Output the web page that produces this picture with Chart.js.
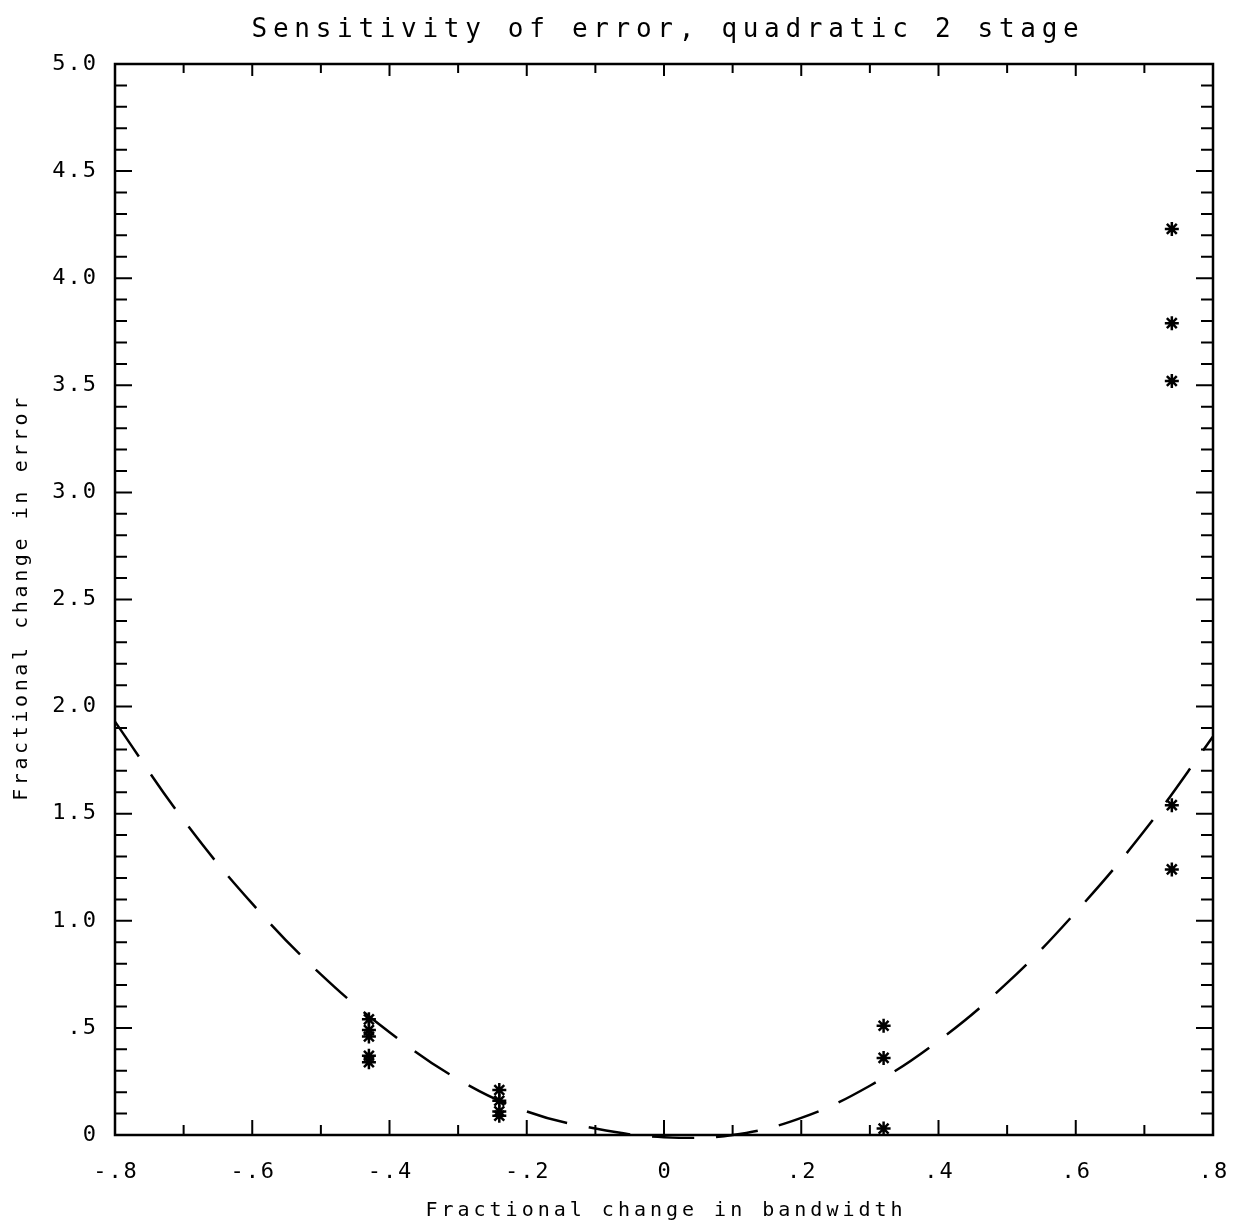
<!DOCTYPE html>
<html>
<head>
<meta charset="utf-8">
<script src="https://cdn.jsdelivr.net/npm/chart.js@4/dist/chart.umd.min.js"></script>
<style>
  html, body { margin: 0; padding: 0; background: #fff; }
  #wrap { width: 1234px; height: 1228px; }
</style>
</head>
<body>
<div id="wrap"><canvas id="chart" width="1234" height="1228"></canvas></div>
<script>
// measured points (asterisks)
const starX = [-0.43, -0.43, -0.43, -0.43, -0.43, -0.24, -0.24, -0.24, -0.24, 0.32, 0.32, 0.32, 0.74, 0.74, 0.74, 0.74, 0.74];
const starY = [0.54, 0.49, 0.46, 0.37, 0.34, 0.21, 0.16, 0.11, 0.09, 0.51, 0.36, 0.03, 4.23, 3.79, 3.52, 1.54, 1.24];

// fitted quadratic
const curveX = [-0.8, -0.7, -0.6, -0.5, -0.4, -0.3, -0.2, -0.1, 0, 0.1, 0.2, 0.3, 0.4, 0.5, 0.6, 0.7, 0.8];
const curveY = [1.93, 1.47, 1.08, 0.75, 0.48, 0.26, 0.11, 0.03, -0.01, 0.0, 0.08, 0.23, 0.44, 0.71, 1.04, 1.42, 1.86];

const xLabels = { "-0.8": "-.8", "-0.6": "-.6", "-0.4": "-.4", "-0.2": "-.2", "0": "0", "0.2": ".2", "0.4": ".4", "0.6": ".6", "0.8": ".8" };
const yLabels = { "0": "0", "0.5": ".5", "1": "1.0", "1.5": "1.5", "2": "2.0", "2.5": "2.5", "3": "3.0", "3.5": "3.5", "4": "4.0", "4.5": "4.5", "5": "5.0" };

const titleText = "Sensitivity of error, quadratic 2 stage";
const xTitle = "Fractional change in bandwidth";
const yTitle = "Fractional change in error";

const FONT = "'DejaVu Sans Mono', monospace";

function key(v) { return String(Math.round(v * 10) / 10); }

const plotterFrame = {
  id: "plotterFrame",
  afterDraw(chart) {
    const ctx = chart.ctx;
    const a = chart.chartArea;
    const xs = chart.scales.x, ys = chart.scales.y;
    ctx.save();
    ctx.strokeStyle = "#000";
    ctx.fillStyle = "#000";
    ctx.lineWidth = 2.5;
    ctx.strokeRect(a.left, a.top, a.right - a.left, a.bottom - a.top);

    // inward ticks
    ctx.lineWidth = 2;
    xs.ticks.forEach(t => {
      const px = xs.getPixelForValue(t.value);
      const major = Math.round(t.value * 10) % 2 === 0;
      const len = major ? 15 : 10;
      ctx.beginPath();
      ctx.moveTo(px, a.bottom); ctx.lineTo(px, a.bottom - len);
      ctx.moveTo(px, a.top); ctx.lineTo(px, a.top + (major ? 12 : 9));
      ctx.stroke();
    });
    ys.ticks.forEach(t => {
      const py = ys.getPixelForValue(t.value);
      const major = Math.round(t.value * 10) % 5 === 0;
      const len = major ? 17 : 12;
      ctx.beginPath();
      ctx.moveTo(a.left, py); ctx.lineTo(a.left + len, py);
      ctx.moveTo(a.right, py); ctx.lineTo(a.right - len, py);
      ctx.stroke();
    });

    // tick labels
    ctx.font = "22px " + FONT;
    ctx.letterSpacing = "2px";
    ctx.textBaseline = "middle";
    ctx.textAlign = "center";
    xs.ticks.forEach(t => {
      const s = xLabels[key(t.value)];
      if (s) ctx.fillText(s, xs.getPixelForValue(t.value) + 1, a.bottom + 37);
    });
    ctx.textAlign = "right";
    ys.ticks.forEach(t => {
      const s = yLabels[key(t.value)];
      if (s) ctx.fillText(s, a.left - 17, ys.getPixelForValue(t.value));
    });

    // titles
    ctx.textAlign = "center";
    ctx.textBaseline = "alphabetic";
    ctx.font = "26px " + FONT;
    ctx.letterSpacing = "5.7px";
    ctx.fillText(titleText, (a.left + a.right) / 2 + 4, 37);
    ctx.font = "20px " + FONT;
    ctx.letterSpacing = "4px";
    ctx.fillText(xTitle, (a.left + a.right) / 2 + 2, 1216);
    ctx.save();
    ctx.translate(27, (a.top + a.bottom) / 2);
    ctx.rotate(-Math.PI / 2);
    ctx.letterSpacing = "3.6px";
    ctx.fillText(yTitle, 2, 0);
    ctx.restore();
    ctx.restore();
  }
};

new Chart(document.getElementById("chart"), {
  type: "scatter",
  data: {
    datasets: [
      {
        label: "measured",
        data: starX.map((x, i) => ({ x: x, y: starY[i] })),
        pointStyle: "star",
        pointRadius: 7,
        pointBorderWidth: 2.5,
        borderColor: "#000",
        backgroundColor: "#000",
        showLine: false
      },
      {
        label: "fit",
        data: curveX.map((x, i) => ({ x: x, y: curveY[i] })),
        showLine: true,
        pointRadius: 0,
        borderColor: "#000",
        borderWidth: 2.5,
        borderDash: [42, 22],
        tension: 0.4,
        clip: 4
      }
    ]
  },
  options: {
    responsive: false,
    animation: false,
    layout: { padding: { left: 115, right: 21, top: 64, bottom: 93 } },
    plugins: { legend: { display: false }, tooltip: { enabled: false } },
    scales: {
      x: {
        type: "linear", min: -0.8, max: 0.8,
        ticks: { stepSize: 0.1, display: false, autoSkip: false },
        grid: { display: false }, border: { display: false },
        afterFit(s) { s.height = 0; }
      },
      y: {
        type: "linear", min: 0, max: 5,
        ticks: { stepSize: 0.1, display: false, autoSkip: false },
        grid: { display: false }, border: { display: false },
        afterFit(s) { s.width = 0; }
      }
    }
  },
  plugins: [plotterFrame]
});
</script>
</body>
</html>
